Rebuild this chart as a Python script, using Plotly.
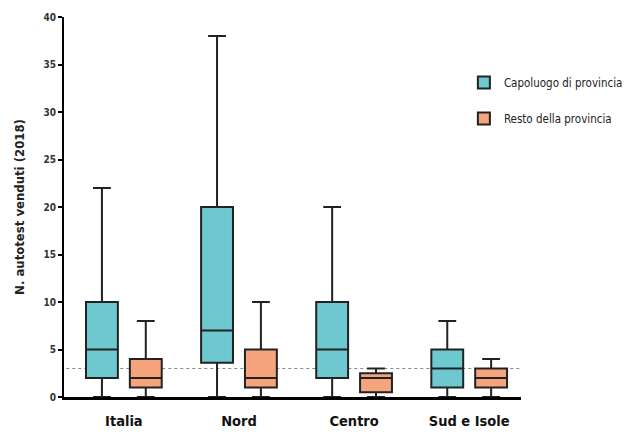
import plotly.graph_objects as go

# ---- data ----
regions = ["Italia", "Nord", "Centro", "Sud e Isole"]

cap_min = [0, 0, 0, 0]
cap_q1 = [2, 3.6, 2, 1]
cap_median = [5, 7, 5, 3]
cap_q3 = [10, 20, 10, 5]
cap_max = [22, 38, 20, 8]

rest_min = [0, 0, 0, 0]
rest_q1 = [1, 1, 0.5, 1]
rest_median = [2, 2, 2, 2]
rest_q3 = [4, 5, 2.5, 3]
rest_max = [8, 10, 3, 4]

reference_value = 3
y_ticks = [0, 5, 10, 15, 20, 25, 30, 35, 40]

FONT = "Liberation Sans Narrow, DejaVu Sans Condensed, Arial Narrow, sans-serif"
LINE = "#222222"

fig = go.Figure()
fig.add_trace(go.Box(
    name="Capoluogo di provincia", x=regions,
    q1=cap_q1, median=cap_median, q3=cap_q3,
    lowerfence=cap_min, upperfence=cap_max,
    fillcolor="#6EC8CF", line=dict(color=LINE, width=2),
    whiskerwidth=0.56, boxpoints=False, legendgroup="a",
))
fig.add_trace(go.Box(
    name="Resto della provincia", x=regions,
    q1=rest_q1, median=rest_median, q3=rest_q3,
    lowerfence=rest_min, upperfence=rest_max,
    fillcolor="#F5A47D", line=dict(color=LINE, width=2),
    whiskerwidth=0.56, boxpoints=False, legendgroup="b",
))

fig.add_shape(type="line", xref="paper", yref="y", x0=0.005, x1=0.998,
              y0=reference_value, y1=reference_value,
              line=dict(color="#8a8a8a", width=1, dash="dot"), layer="below")

fig.update_layout(
    width=636, height=441,
    margin=dict(l=56, r=123, t=9, b=52, autoexpand=False),
    paper_bgcolor="white", plot_bgcolor="white",
    boxmode="group", boxgap=0.238, boxgroupgap=0.273,
    font=dict(family=FONT, color="#222222"),
    legend=dict(x=0.875, y=0.866, xanchor="left", yanchor="top",
                font=dict(size=11.5, family=FONT, color="#222222"),
                tracegroupgap=17, bgcolor="rgba(0,0,0,0)"),
    xaxis=dict(range=[-0.52, 3.45], showline=True, linecolor="black", linewidth=3,
               ticks="", showgrid=False, zeroline=False, automargin=False,
               ticklabelstandoff=9,
               tickfont=dict(size=14.5, family=FONT, color="#111111", weight="bold")),
    yaxis=dict(range=[0, 40], tickvals=y_ticks, showline=True, linecolor="black",
               linewidth=2, ticks="outside", ticklen=4, tickwidth=2, tickcolor="black",
               showgrid=False, zeroline=False, automargin=False,
               tickfont=dict(size=10, family=FONT, color="#333333", weight="bold"),
               title=dict(text="N. autotest venduti (2018)", standoff=16,
                          font=dict(size=13, family=FONT, color="#222222", weight="bold"))),
)

fig.write_html("out.html")
